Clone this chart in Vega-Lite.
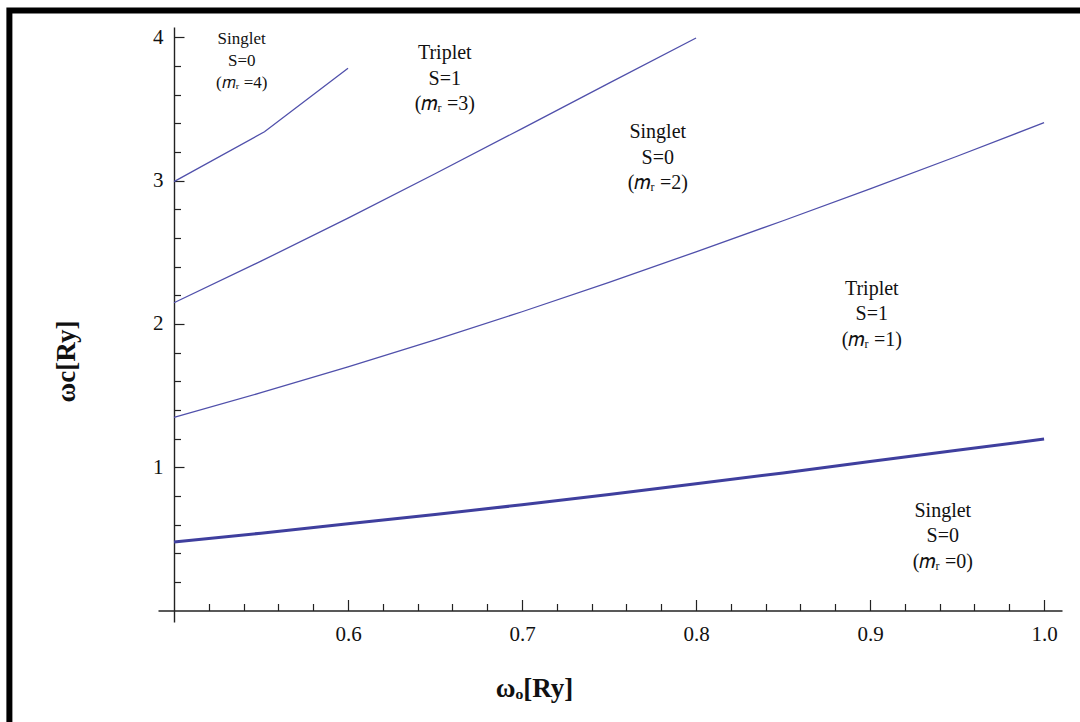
{
  "$schema": "https://vega.github.io/schema/vega-lite/v6.json",
  "width": 904,
  "height": 595,
  "autosize": {"type": "none"},
  "padding": {"left": 158, "top": 27, "right": 18, "bottom": 100},
  "background": "white",
  "config": {
    "view": {"stroke": null},
    "axis": {"labelFont": "Liberation Serif", "titleFont": "Liberation Serif", "domainColor": "#222", "tickColor": "#222", "labelColor": "#111", "titleColor": "#111", "grid": false}
  },
  "datasets": {
    "curves": [
      {"m": 0, "wo": 0.5, "wc": 0.478}, {"m": 0, "wo": 0.55, "wc": 0.54}, {"m": 0, "wo": 0.6, "wc": 0.605}, {"m": 0, "wo": 0.65, "wc": 0.67}, {"m": 0, "wo": 0.7, "wc": 0.738}, {"m": 0, "wo": 0.75, "wc": 0.81}, {"m": 0, "wo": 0.8, "wc": 0.884}, {"m": 0, "wo": 0.85, "wc": 0.96}, {"m": 0, "wo": 0.9, "wc": 1.04}, {"m": 0, "wo": 0.95, "wc": 1.118}, {"m": 0, "wo": 1.0, "wc": 1.197},
      {"m": 1, "wo": 0.5, "wc": 1.348}, {"m": 1, "wo": 0.55, "wc": 1.52}, {"m": 1, "wo": 0.6, "wc": 1.70}, {"m": 1, "wo": 0.65, "wc": 1.888}, {"m": 1, "wo": 0.7, "wc": 2.085}, {"m": 1, "wo": 0.75, "wc": 2.29}, {"m": 1, "wo": 0.8, "wc": 2.503}, {"m": 1, "wo": 0.85, "wc": 2.72}, {"m": 1, "wo": 0.9, "wc": 2.942}, {"m": 1, "wo": 0.95, "wc": 3.17}, {"m": 1, "wo": 1.0, "wc": 3.404},
      {"m": 2, "wo": 0.5, "wc": 2.148}, {"m": 2, "wo": 0.55, "wc": 2.438}, {"m": 2, "wo": 0.6, "wc": 2.738}, {"m": 2, "wo": 0.65, "wc": 3.048}, {"m": 2, "wo": 0.7, "wc": 3.363}, {"m": 2, "wo": 0.75, "wc": 3.68}, {"m": 2, "wo": 0.8, "wc": 3.995},
      {"m": 4, "wo": 0.5, "wc": 2.993}, {"m": 4, "wo": 0.552, "wc": 3.341}, {"m": 4, "wo": 0.6, "wc": 3.784}
    ],
    "labels": [
      {"m": 4, "wo": 0.5389, "wc": 3.953, "text": "Singlet\nS=0\n(𝑚ᵣ =4)"},
      {"m": 3, "wo": 0.6556, "wc": 3.846, "text": "Triplet\nS=1\n(𝑚ᵣ =3)"},
      {"m": 2, "wo": 0.778, "wc": 3.297, "text": "Singlet\nS=0\n(𝑚ᵣ =2)"},
      {"m": 1, "wo": 0.901, "wc": 2.202, "text": "Triplet\nS=1\n(𝑚ᵣ =1)"},
      {"m": 0, "wo": 0.9418, "wc": 0.655, "text": "Singlet\nS=0\n(𝑚ᵣ =0)"}
    ]
  },
  "resolve": {"axis": {"x": "independent", "y": "independent"}},
  "layer": [
    {
      "data": {"values": [{}]},
      "mark": {"type": "rect", "fill": "white", "fillOpacity": 0, "stroke": "black", "strokeWidth": 6, "clip": false},
      "encoding": {
        "x": {"datum": 0.4054, "type": "quantitative", "scale": {"domain": [0.4908, 1.0103], "nice": false, "zero": false},
          "axis": {"orient": "bottom", "offset": -11.5, "values": [0.52, 0.54, 0.56, 0.58, 0.62, 0.64, 0.66, 0.68, 0.72, 0.74, 0.76, 0.78, 0.82, 0.84, 0.86, 0.88, 0.92, 0.94, 0.96, 0.98], "tickSize": -7, "tickWidth": 1.2, "labels": false, "domain": false, "title": null}},
        "x2": {"datum": 1.12},
        "y": {"datum": 4.188, "type": "quantitative", "scale": {"domain": [-0.08, 4.072], "nice": false, "zero": false},
          "axis": {"orient": "left", "offset": -16, "values": [0.2, 0.4, 0.6, 0.8, 1.2, 1.4, 1.6, 1.8, 2.2, 2.4, 2.6, 2.8, 3.2, 3.4, 3.6, 3.8], "tickSize": -6.5, "tickWidth": 1.2, "labels": false, "domain": false, "title": null}},
        "y2": {"datum": -0.95}
      }
    },
    {
      "data": {"name": "curves"},
      "transform": [{"filter": "datum.m != 0"}],
      "mark": {"type": "line", "color": "#5050ab", "strokeWidth": 1.3},
      "encoding": {
        "x": {"field": "wo", "type": "quantitative", "scale": {"domain": [0.4908, 1.0103], "nice": false, "zero": false},
          "axis": {"orient": "bottom", "offset": -11.5, "values": [0.6, 0.7, 0.8, 0.9, 1.0], "format": ".1f", "tickSize": -11, "tickWidth": 1.2, "domainWidth": 1.4, "labelFontSize": 21, "labelBaseline": "alphabetic", "labelPadding": 40.5,
            "title": "ωₒ[Ry]", "titleFontSize": 27, "titleFontWeight": "bold", "titleX": 376, "titleY": 86, "titleAlign": "center", "titleBaseline": "alphabetic"}},
        "y": {"field": "wc", "type": "quantitative", "scale": {"domain": [-0.08, 4.072], "nice": false, "zero": false},
          "axis": {"orient": "left", "offset": -16, "values": [1, 2, 3, 4], "format": "d", "tickSize": -10, "tickWidth": 1.2, "domainWidth": 1.4, "labelFontSize": 21, "labelBaseline": "middle", "labelPadding": 21,
            "title": "ωc[Ry]", "titleFontSize": 27, "titleFontWeight": "bold", "titleAngle": -90, "titleX": -100, "titleY": 334, "titleAlign": "center", "titleBaseline": "alphabetic"}},
        "detail": {"field": "m", "type": "nominal"}
      }
    },
    {
      "data": {"name": "curves"},
      "transform": [{"filter": "datum.m == 0"}],
      "mark": {"type": "line", "color": "#3f3f9e", "strokeWidth": 3},
      "encoding": {
        "x": {"field": "wo", "type": "quantitative", "scale": {"domain": [0.4908, 1.0103], "nice": false, "zero": false}, "axis": null},
        "y": {"field": "wc", "type": "quantitative", "scale": {"domain": [-0.08, 4.072], "nice": false, "zero": false}, "axis": null}
      }
    },
    {
      "data": {"name": "labels"},
      "transform": [{"filter": "datum.m != 4"}],
      "mark": {"type": "text", "lineBreak": "\n", "font": "Liberation Serif", "fontSize": 20, "lineHeight": 25.5, "baseline": "alphabetic", "align": "center", "color": "#111"},
      "encoding": {
        "x": {"field": "wo", "type": "quantitative", "scale": {"domain": [0.4908, 1.0103], "nice": false, "zero": false}, "axis": null},
        "y": {"field": "wc", "type": "quantitative", "scale": {"domain": [-0.08, 4.072], "nice": false, "zero": false}, "axis": null},
        "text": {"field": "text", "type": "nominal"}
      }
    },
    {
      "data": {"name": "labels"},
      "transform": [{"filter": "datum.m == 4"}],
      "mark": {"type": "text", "lineBreak": "\n", "font": "Liberation Serif", "fontSize": 17, "lineHeight": 22, "baseline": "alphabetic", "align": "center", "color": "#111"},
      "encoding": {
        "x": {"field": "wo", "type": "quantitative", "scale": {"domain": [0.4908, 1.0103], "nice": false, "zero": false}, "axis": null},
        "y": {"field": "wc", "type": "quantitative", "scale": {"domain": [-0.08, 4.072], "nice": false, "zero": false}, "axis": null},
        "text": {"field": "text", "type": "nominal"}
      }
    }
  ]
}
